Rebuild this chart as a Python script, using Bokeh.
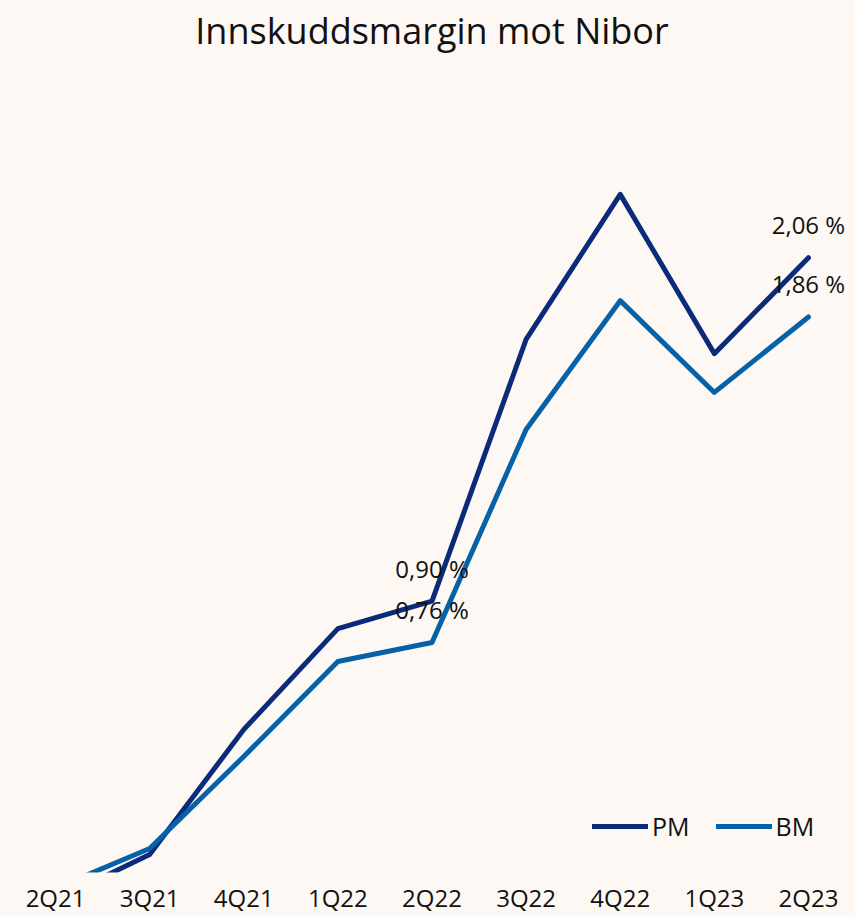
from bokeh.plotting import figure
from bokeh.models import ColumnDataSource, FactorRange, Range1d, Legend, LegendItem
from bokeh.core.properties import value
from bokeh.embed import file_html
from bokeh.resources import INLINE

quarters = ["2Q21", "3Q21", "4Q21", "1Q22", "2Q22", "3Q22", "4Q22", "1Q23", "2Q23"]
pm = [-0.11, 0.044, 0.466, 0.807, 0.90, 1.784, 2.274, 1.736, 2.06]
bm = [-0.07, 0.064, 0.375, 0.696, 0.76, 1.48, 1.915, 1.605, 1.86]
label_quarters = ["2Q22", "2Q23"]

FONT = "Open Sans"
BG = "#FDF8F4"
PM_COLOR = "#0A2A7A"
BM_COLOR = "#0662A8"

PX_PER_UNIT = 296.0
FRAME_H = 815
y0 = -5 / PX_PER_UNIT

p = figure(
    x_range=FactorRange(*quarters, range_padding=0),
    y_range=Range1d(y0, y0 + FRAME_H / PX_PER_UNIT),
    frame_width=847, frame_height=FRAME_H,
    output_backend="svg", toolbar_location=None,
    background_fill_color=BG, border_fill_color=BG,
    outline_line_color=None,
    min_border_left=8, min_border_right=0, min_border_top=0, min_border_bottom=0,
)
p.title.text = "Innskuddsmargin mot Nibor"
p.title.align = "center"
p.title.text_font = FONT
p.title.text_font_size = "36px"
p.title.text_font_style = "normal"
p.title.text_color = "#111111"
p.title.standoff = 6

p.xgrid.visible = False
p.ygrid.visible = False
p.yaxis.visible = False
p.xaxis.axis_line_color = None
p.xaxis.major_tick_line_color = None
p.xaxis.minor_tick_line_color = None
p.xaxis.major_tick_in = 0
p.xaxis.major_tick_out = 0
p.xaxis.major_label_text_font = FONT
p.xaxis.major_label_text_font_size = "24px"
p.xaxis.major_label_text_color = "#111111"
p.xaxis.major_label_standoff = 8

src = ColumnDataSource(dict(q=quarters, pm=pm, bm=bm))
r_pm = p.line("q", "pm", source=src, line_color=PM_COLOR, line_width=5,
              line_join="round", line_cap="round")
r_bm = p.line("q", "bm", source=src, line_color=BM_COLOR, line_width=5,
              line_join="round", line_cap="round")

def fmt(v):
    return f"{v:.2f}".replace(".", ",") + " %"

lab_pm = [pm[quarters.index(q)] for q in label_quarters]
lab_bm = [bm[quarters.index(q)] for q in label_quarters]
lsrc = ColumnDataSource(dict(
    q=label_quarters + label_quarters,
    y=lab_pm + lab_bm,
    t=[fmt(v) for v in lab_pm] + [fmt(v) for v in lab_bm],
))
p.text("q", "y", text="t", source=lsrc, text_align="center", text_baseline="middle",
       y_offset=-33, text_font=value(FONT), text_font_size="24px", text_color="#111111")

legend = Legend(items=[LegendItem(label="PM", renderers=[r_pm]),
                       LegendItem(label="BM", renderers=[r_bm])],
                orientation="horizontal", location=(584, 29),
                background_fill_alpha=0, border_line_color=None,
                label_text_font=FONT, label_text_font_size="25px",
                label_text_color="#111111", glyph_width=56, glyph_height=20,
                label_height=20, spacing=26, label_standoff=4, margin=0, padding=0)
p.add_layout(legend)

open("out.html", "w").write(file_html(p, INLINE))
